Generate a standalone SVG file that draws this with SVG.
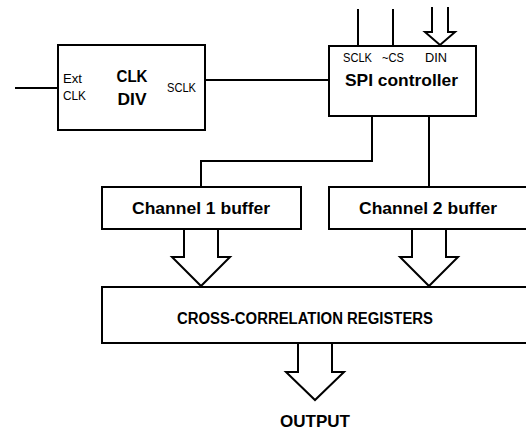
<svg xmlns="http://www.w3.org/2000/svg" width="526" height="430" viewBox="0 0 526 430">
<style>
.box{fill:#fff;stroke:#000;stroke-width:2}
.ln{fill:none;stroke:#000;stroke-width:2;stroke-linejoin:miter}
.t{font-family:"Liberation Sans",Arial,sans-serif;fill:#000}
.b{font-weight:bold}
.s{font-size:12px}
</style>
<rect width="526" height="430" fill="#fff"/>
<g id="connectors">
<line class="ln" x1="15" y1="88" x2="58" y2="88"/>
<line class="ln" x1="205" y1="80" x2="329" y2="80"/>
<line class="ln" x1="358" y1="9" x2="358" y2="46"/>
<line class="ln" x1="393" y1="9" x2="393" y2="46"/>
<polyline class="ln" points="432,7 432,32 425,32 440,45 455,32 448,32 448,7"/>
<polyline class="ln" points="372,116 372,161 201,161 201,187"/>
<line class="ln" x1="429" y1="116" x2="429" y2="187"/>
<polyline class="ln" points="184,229 184,257 172,257 201,286 230,257 218,257 218,229"/>
<polyline class="ln" points="412,229 412,257 400,257 429,286 458,257 446,257 446,229"/>
<polyline class="ln" points="298,343 298,372 286,372 315,400 344,372 332,372 332,343"/>
</g>
<g id="clkdiv">
<rect class="box" x="58" y="45" width="147" height="85"/>
<text class="t s" x="63" y="83" textLength="19" lengthAdjust="spacingAndGlyphs">Ext</text>
<text class="t s" x="63" y="100" textLength="23" lengthAdjust="spacingAndGlyphs">CLK</text>
<text class="t b" x="132" y="82" font-size="17" text-anchor="middle" textLength="31" lengthAdjust="spacingAndGlyphs">CLK</text>
<text class="t b" x="132" y="105" font-size="17" text-anchor="middle" textLength="29" lengthAdjust="spacingAndGlyphs">DIV</text>
<text class="t s" x="167" y="92" textLength="29" lengthAdjust="spacingAndGlyphs">SCLK</text>
</g>
<g id="spi">
<rect class="box" x="329" y="46" width="147" height="70"/>
<text class="t s" x="343" y="62" textLength="29" lengthAdjust="spacingAndGlyphs">SCLK</text>
<text class="t s" x="382" y="62" textLength="22" lengthAdjust="spacingAndGlyphs">~CS</text>
<text class="t s" x="425" y="62" textLength="22" lengthAdjust="spacingAndGlyphs">DIN</text>
<text class="t b" x="345" y="86" font-size="17" textLength="113" lengthAdjust="spacingAndGlyphs">SPI controller</text>
</g>
<g id="ch1">
<rect class="box" x="102" y="187" width="199" height="42"/>
<text class="t b" x="132" y="214" font-size="16" textLength="138" lengthAdjust="spacingAndGlyphs">Channel 1 buffer</text>
</g>
<g id="ch2">
<rect class="box" x="329" y="187" width="200" height="42"/>
<text class="t b" x="359" y="214" font-size="16" textLength="138" lengthAdjust="spacingAndGlyphs">Channel 2 buffer</text>
</g>
<g id="xcorr">
<rect class="box" x="102" y="287" width="427" height="56"/>
<text class="t b" x="177" y="324" font-size="16" textLength="256" lengthAdjust="spacingAndGlyphs">CROSS-CORRELATION REGISTERS</text>
</g>
<g id="output">
<text class="t b" x="315" y="427" font-size="17" text-anchor="middle" textLength="70" lengthAdjust="spacingAndGlyphs">OUTPUT</text>
</g>
</svg>
